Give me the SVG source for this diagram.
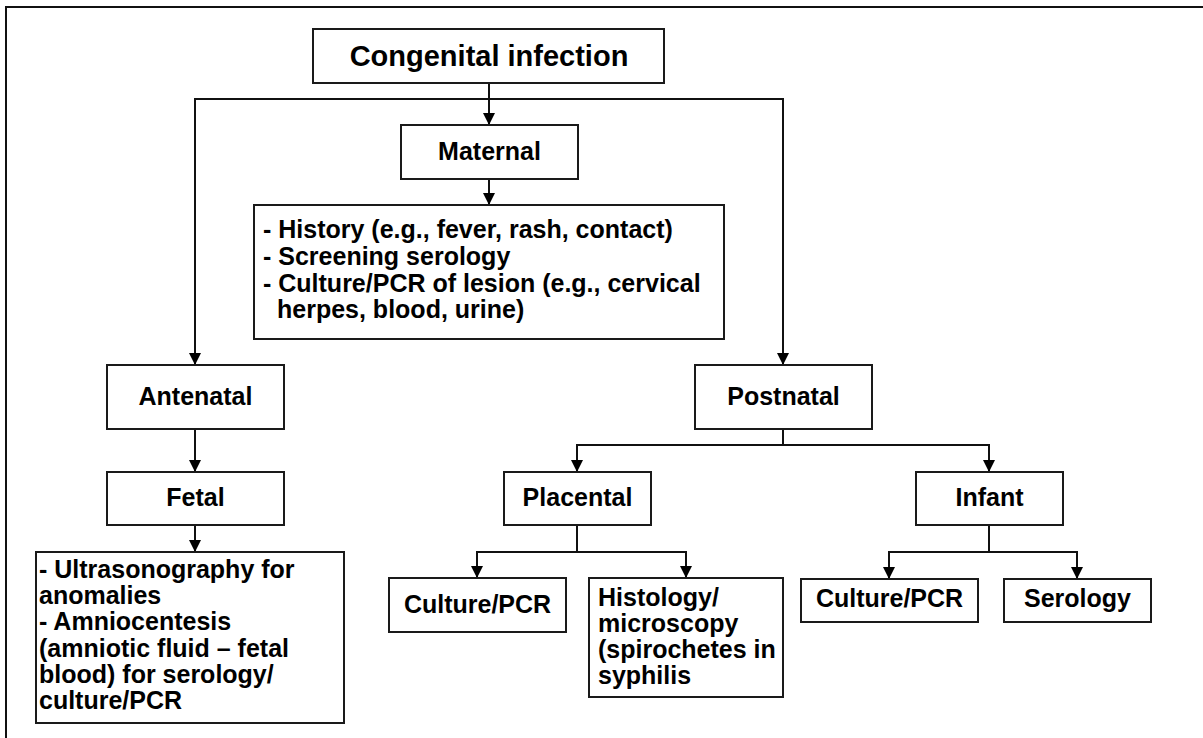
<svg xmlns="http://www.w3.org/2000/svg" width="1203" height="738" viewBox="0 0 1203 738">
<defs>
<style>
.box{fill:#fff;stroke:#1a1a1a;stroke-width:2}
.t{font-family:"Liberation Sans",Arial,sans-serif;font-weight:bold;font-size:25px;fill:#000}
.c{text-anchor:middle}
.ttl{font-size:29px}
.ln{fill:none;stroke:#111;stroke-width:2}
</style>
<marker id="ah" markerUnits="userSpaceOnUse" markerWidth="12" markerHeight="12" refX="12" refY="6" orient="auto">
<path d="M0,0 L12,6 L0,12 z" fill="#000"/>
</marker>
</defs>
<rect width="1203" height="738" fill="#fff"/>
<path d="M6,738 V7 H1203" fill="none" stroke="#111" stroke-width="2"/>

<g id="connectors">
<path class="ln" d="M489,83 V125" marker-end="url(#ah)"/>
<path class="ln" d="M489,99 H195 V365" marker-end="url(#ah)"/>
<path class="ln" d="M489,99 H783 V365" marker-end="url(#ah)"/>
<path class="ln" d="M489,179 V205" marker-end="url(#ah)"/>
<path class="ln" d="M195,429 V472" marker-end="url(#ah)"/>
<path class="ln" d="M195,525 V552" marker-end="url(#ah)"/>
<path class="ln" d="M783,429 V445 H577 V472" marker-end="url(#ah)"/>
<path class="ln" d="M783,445 H989 V472" marker-end="url(#ah)"/>
<path class="ln" d="M577,525 V552 H477 V578" marker-end="url(#ah)"/>
<path class="ln" d="M577,552 H686 V578" marker-end="url(#ah)"/>
<path class="ln" d="M989,525 V552 H889 V579" marker-end="url(#ah)"/>
<path class="ln" d="M989,552 H1077 V579" marker-end="url(#ah)"/>
</g>

<g id="congenital">
<rect class="box" x="313" y="29" width="351" height="54"/>
<text class="t c ttl" x="489" y="66">Congenital infection</text>
</g>
<g id="maternal">
<rect class="box" x="401" y="125" width="177" height="54"/>
<text class="t c" x="489.5" y="160">Maternal</text>
</g>
<g id="maternal-tests">
<rect class="box" x="254" y="205" width="470" height="134"/>
<text class="t" x="263" y="238">- History (e.g., fever, rash, contact)</text>
<text class="t" x="263" y="265">- Screening serology</text>
<text class="t" x="263" y="291.5">- Culture/PCR of lesion (e.g., cervical</text>
<text class="t" x="277" y="318">herpes, blood, urine)</text>
</g>
<g id="antenatal">
<rect class="box" x="107" y="365" width="177" height="64"/>
<text class="t c" x="195.5" y="405">Antenatal</text>
</g>
<g id="postnatal">
<rect class="box" x="695" y="365" width="177" height="64"/>
<text class="t c" x="783.5" y="405">Postnatal</text>
</g>
<g id="fetal">
<rect class="box" x="107" y="472" width="177" height="53"/>
<text class="t c" x="195.5" y="506">Fetal</text>
</g>
<g id="fetal-tests">
<rect class="box" x="36" y="552" width="308" height="171"/>
<text class="t" x="39" y="578">- Ultrasonography for</text>
<text class="t" x="39" y="604">anomalies</text>
<text class="t" x="39" y="630">- Amniocentesis</text>
<text class="t" x="39" y="657">(amniotic fluid – fetal</text>
<text class="t" x="39" y="683">blood) for serology/</text>
<text class="t" x="39" y="709">culture/PCR</text>
</g>
<g id="placental">
<rect class="box" x="504" y="472" width="147" height="53"/>
<text class="t c" x="577.5" y="506">Placental</text>
</g>
<g id="infant">
<rect class="box" x="916" y="472" width="147" height="53"/>
<text class="t c" x="989.5" y="506">Infant</text>
</g>
<g id="placental-culture">
<rect class="box" x="389" y="578" width="177" height="54"/>
<text class="t c" x="477.5" y="613">Culture/PCR</text>
</g>
<g id="histology">
<rect class="box" x="589" y="578" width="194" height="119"/>
<text class="t" x="598" y="606">Histology/</text>
<text class="t" x="598" y="632">microscopy</text>
<text class="t" x="598" y="658">(spirochetes in</text>
<text class="t" x="598" y="684">syphilis</text>
</g>
<g id="infant-culture">
<rect class="box" x="801" y="579" width="177" height="43"/>
<text class="t c" x="889.5" y="607">Culture/PCR</text>
</g>
<g id="serology">
<rect class="box" x="1004" y="579" width="147" height="43"/>
<text class="t c" x="1077.5" y="607">Serology</text>
</g>
</svg>
